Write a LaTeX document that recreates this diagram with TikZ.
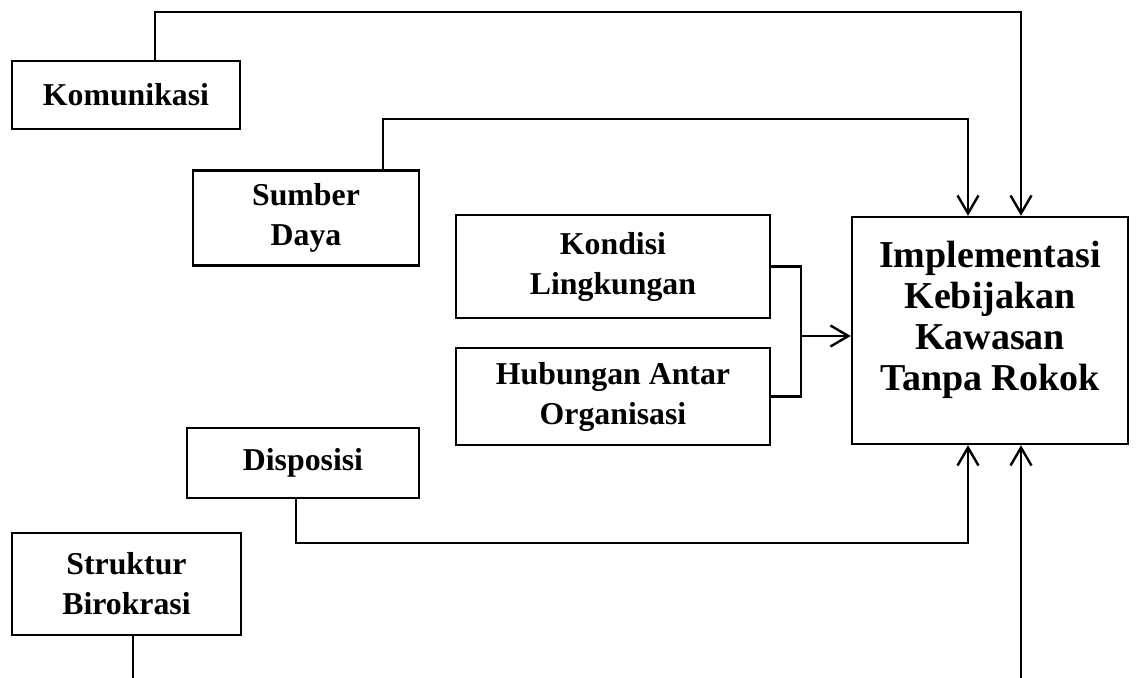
\documentclass[tikz,border=0pt]{standalone}
\usepackage{fontspec}
\setmainfont{Liberation Serif}
\usetikzlibrary{arrows.meta}
\tikzset{
	box/.style={draw,line width=1.2pt,align=center,inner sep=0pt,font=\bfseries\fontsize{15.9}{20}\selectfont},
	link/.style={line width=1.2pt},
	arr/.style={-{Straight Barb[length=9pt,width=10.5pt,line width=1.2pt]}}
}
\begin{document}
\begin{tikzpicture}[x=0.5pt,y=-0.5pt]
		\useasboundingbox (0,0) rectangle (1136,678);
		\node[box,minimum width=114pt,minimum height=34pt] (kom) at (126,95) {Komunikasi};
		\node[box,minimum width=113pt,minimum height=47.5pt] (sd) at (306,218) {Sumber\\Daya};
		\node[box,minimum width=157pt,minimum height=51.5pt] (kl) at (613,266.5) {Kondisi\\Lingkungan};
		\node[box,minimum width=157pt,minimum height=48.5pt] (hao) at (613,396.5) {Hubungan Antar\\Organisasi};
		\node[box,minimum width=116pt,minimum height=35pt] (disp) at (303,463) {Disposisi};
		\node[box,minimum width=114.5pt,minimum height=51pt] (sb) at (126.5,584) {Struktur\\Birokrasi};
		\node[box,minimum width=138pt,minimum height=113.5pt] (impl) at (990,330.5) {};
		\node[align=center,font=\bfseries\fontsize{19}{20.5}\selectfont] (impltxt) at (990,320) {Implementasi\\Kebijakan\\Kawasan\\Tanpa Rokok};
		\coordinate (kx) at (155,12);
		\coordinate (sx) at (383,119);
		\coordinate (dx) at (296,543);
		\coordinate (bx) at (801,336);
		\coordinate (sbx) at (133,678);
		\coordinate (rx) at (1021,678);
		\coordinate (lx) at (968,0);
		\draw[link,arr] (kom.north -| kx) -- (kx) -| (impl.north -| rx);
		\draw[link,arr] (sd.north -| sx) -- (sx) -| (impl.north -| lx);
		\draw[link,arr] (disp.south -| dx) -- (dx) -| (impl.south -| lx);
		\draw[link] (sb.south -| sbx) -- (sbx);
		\draw[link,arr] (rx) -- (impl.south -| rx);
		\draw[link] (kl.east) -| (bx) |- (hao.east);
		\draw[link,arr] (bx) -- (impl.west |- bx);
	\end{tikzpicture}
\end{document}
